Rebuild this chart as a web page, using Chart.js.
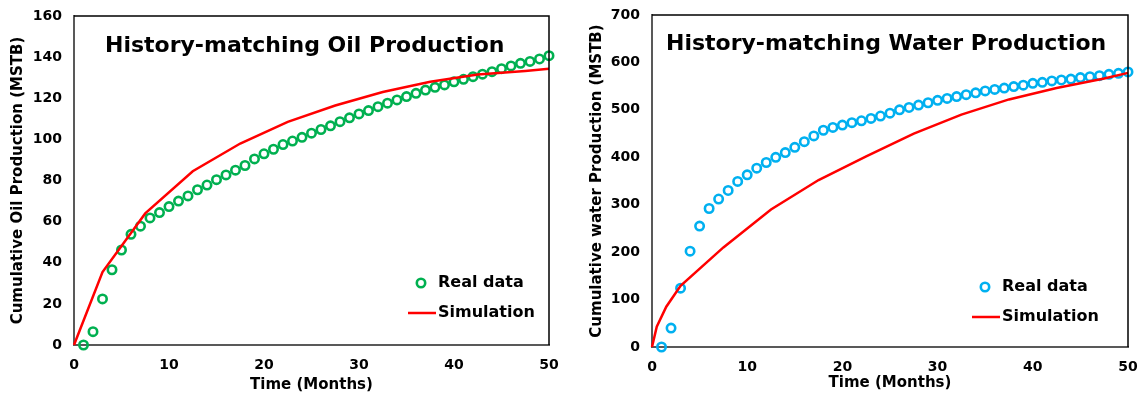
<!DOCTYPE html>
<html>
<head>
<meta charset="utf-8">
<script src="https://cdn.jsdelivr.net/npm/chart.js@4.4.1/dist/chart.umd.min.js"></script>
<style>
  html, body { margin: 0; padding: 0; background: #fff; }
  #wrap { position: relative; width: 1143px; height: 396px; }
  .panel { position: absolute; top: 0; height: 396px; }
  #oilPanel { left: 0; width: 570px; }
  #waterPanel { left: 572px; width: 571px; }
</style>
</head>
<body>
<div id="wrap">
  <div class="panel" id="oilPanel"><canvas id="oilChart"></canvas></div>
  <div class="panel" id="waterPanel"><canvas id="waterChart"></canvas></div>
</div>
<script>
// Measured months (real data)
const months = [1,2,3,4,5,6,7,8,9,10,11,12,13,14,15,16,17,18,19,20,21,22,23,24,25,
                26,27,28,29,30,31,32,33,34,35,36,37,38,39,40,41,42,43,44,45,46,47,48,49,50];

// Cumulative oil production, real data (MSTB)
const oilReal = [0,6.5,22.4,36.6,46.2,53.8,57.8,61.8,64.4,67.3,70,72.5,75.5,77.8,80.4,82.7,85,87.3,90.5,93,
                 95.2,97.5,99.2,101,103,104.8,106.6,108.6,110.5,112.4,114,115.9,117.6,119.2,120.8,122.4,124,125.3,126.5,128,
                 129.2,130.5,131.7,132.9,134.4,135.7,137,137.9,139.1,140.7];

// Simulation output times and cumulative oil (MSTB)
const oilSimTime = [0,3,7.5,12.5,17.5,22.5,27.5,32.5,37.5,42.5,47.5,50];
const oilSim = [0,35.5,64,84.5,98,108.5,116.5,123,128,131.5,133.3,134.3];

// Cumulative water production, real data (MSTB)
const waterReal = [0,40,124,202,255,292,312,330,349,363,377,389,400,410,421,433,445,457,463,468,
                   473,477,482,487,493,500,505,510,515,520,524,528,532,536,540,543,546,549,552,556,
                   558,561,563,565,568,570,572,575,577,580];

// Simulation output times and cumulative water (MSTB)
const waterSimTime = [0,0.5,1.5,3,7.5,12.5,17.5,22.5,27.5,32.5,37.5,42.5,47.5,50];
const waterSim = [0,43,85,129,210,290,352,402,450,490,522,546,566,578];

// Axis tick settings
const xTicks = {min: 0, max: 50, step: 10};
const oilTicks = {min: 0, max: 160, step: 20};
const waterTicks = {min: 0, max: 700, step: 100};

const FONT = "'DejaVu Sans', Verdana, sans-serif";
const GREEN = '#00B050';
const BLUE = '#00B0F0';
const RED = '#FF0000';

function pairs(xs, ys) { return xs.map((x, i) => ({x: x, y: ys[i]})); }

// Title, legend and top/right frame drawn inside the plot area
const panelDecor = {
  id: 'panelDecor',
  afterDatasetsDraw(chart, args, opts) {
    const ctx = chart.ctx;
    const a = chart.chartArea;
    ctx.save();
    // frame
    ctx.strokeStyle = '#000';
    ctx.lineWidth = 1.5;
    ctx.beginPath();
    ctx.moveTo(a.left, a.top);
    ctx.lineTo(a.right, a.top);
    ctx.lineTo(a.right, a.bottom);
    ctx.stroke();
    // title
    ctx.fillStyle = '#000';
    ctx.font = 'bold ' + opts.titleSize + 'px ' + FONT;
    ctx.textAlign = 'left';
    ctx.textBaseline = 'middle';
    ctx.fillText(opts.title, a.left + opts.titleDx, a.top + opts.titleDy);
    // legend
    const ds = chart.data.datasets;
    const lx = a.left + opts.legendDx;
    const ly = a.top + opts.legendDy;
    ctx.font = 'bold 16px ' + FONT;
    // marker entry
    ctx.beginPath();
    ctx.arc(lx + 13, ly, 4.2, 0, Math.PI * 2);
    ctx.lineWidth = 2.6;
    ctx.strokeStyle = ds[0].borderColor;
    ctx.stroke();
    ctx.fillStyle = '#000';
    ctx.fillText(ds[0].label, lx + 30, ly);
    // line entry
    ctx.beginPath();
    ctx.moveTo(lx, ly + 30);
    ctx.lineTo(lx + 28, ly + 30);
    ctx.strokeStyle = ds[1].borderColor;
    ctx.lineWidth = 2.5;
    ctx.stroke();
    ctx.fillText(ds[1].label, lx + 30, ly + 30);
    ctx.restore();
  }
};

function makeChart(id, cfg) {
  return new Chart(document.getElementById(id), {
    type: 'scatter',
    data: {
      datasets: [
        {
          label: 'Real data',
          data: pairs(months, cfg.real),
          borderColor: cfg.color,
          backgroundColor: 'rgba(0,0,0,0)',
          pointRadius: 4.2,
          pointBorderWidth: 2.6,
          pointHoverRadius: 4.2,
          showLine: false,
          clip: false,
          order: 1
        },
        {
          label: 'Simulation',
          type: 'line',
          data: pairs(cfg.simTime, cfg.sim),
          borderColor: RED,
          backgroundColor: RED,
          borderWidth: 2.5,
          pointRadius: 0,
          tension: 0,
          fill: false,
          clip: false,
          order: 0
        }
      ]
    },
    options: {
      responsive: true,
      maintainAspectRatio: false,
      animation: false,
      events: [],
      layout: { padding: { top: cfg.padTop, right: cfg.padRight, left: 0, bottom: 0 } },
      plugins: {
        legend: { display: false },
        tooltip: { enabled: false },
        panelDecor: cfg.decor
      },
      scales: {
        x: {
          type: 'linear',
          min: xTicks.min, max: xTicks.max,
          ticks: { stepSize: xTicks.step, color: '#000', padding: 12, font: { family: FONT, size: 14, weight: 'bold' } },
          grid: { display: false, drawTicks: false },
          border: { display: true, color: '#595959', width: 2 },
          title: { display: true, text: 'Time (Months)', color: '#000', padding: { top: 0, bottom: cfg.xTitlePad }, font: { family: FONT, size: 15, weight: 'bold' } },
          afterFit(scale) {
            scale.height = cfg.xHeight;
            scale.paddingLeft = 0;
            scale.paddingRight = 0;
          }
        },
        y: {
          type: 'linear',
          min: cfg.yTicks.min, max: cfg.yTicks.max,
          ticks: { stepSize: cfg.yTicks.step, color: '#000', padding: 12, font: { family: FONT, size: 14, weight: 'bold' } },
          grid: { display: false, drawTicks: false },
          border: { display: true, color: '#595959', width: 2 },
          title: { display: true, text: cfg.yTitle, color: '#000', padding: { top: cfg.yTitlePad, bottom: 0 }, font: { family: FONT, size: 15, weight: 'bold' } },
          afterFit(scale) {
            scale.width = cfg.yWidth;
            scale.paddingTop = 0;
            scale.paddingBottom = 0;
          }
        }
      }
    },
    plugins: [panelDecor]
  });
}

makeChart('oilChart', {
  real: oilReal, simTime: oilSimTime, sim: oilSim, color: GREEN,
  yTicks: oilTicks, yTitle: 'Cumulative Oil Production (MSTB)',
  padTop: 16, padRight: 21, xHeight: 51, yWidth: 74, xTitlePad: 2, yTitlePad: 9,
  decor: { title: 'History-matching Oil Production', titleSize: 22, titleDx: 31, titleDy: 30, legendDx: 334, legendDy: 267 }
});

makeChart('waterChart', {
  real: waterReal, simTime: waterSimTime, sim: waterSim, color: BLUE,
  yTicks: waterTicks, yTitle: 'Cumulative water Production (MSTB)',
  padTop: 15, padRight: 15, xHeight: 49, yWidth: 80, xTitlePad: 4, yTitlePad: 16.5,
  decor: { title: 'History-matching Water Production', titleSize: 22, titleDx: 14, titleDy: 29.5, legendDx: 320, legendDy: 272 }
});
</script>
</body>
</html>
